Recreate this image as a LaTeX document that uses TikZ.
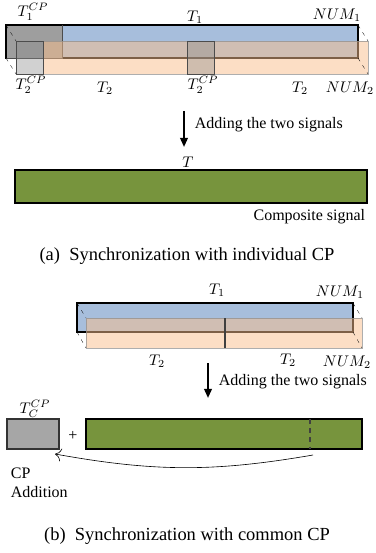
\documentclass[tikz,border=0pt]{standalone}
\usepackage{amsmath}
\usepackage{fontspec}
\setmainfont{Liberation Serif}
\usetikzlibrary{fit,arrows.meta}

\definecolor{sigblue}{RGB}{167,190,220}
\definecolor{sigorange}{RGB}{250,190,140}
\definecolor{siggreen}{RGB}{119,148,61}
\definecolor{cpgray}{RGB}{158,158,158}

\begin{document}
\begin{tikzpicture}[x=0.65pt,y=-0.65pt,
    sigone/.style={fill=sigblue,draw=black,line width=0.7pt},
    sigtwo/.style={fill=sigorange,fill opacity=0.5,draw=black!45,draw opacity=0.7,line width=0.6pt},
    cpbox/.style={fill=black!45,fill opacity=0.4,draw=black!70,line width=0.6pt},
    corner/.style={very thin,dash pattern=on 2.5pt off 3pt},
    composite/.style={fill=siggreen,draw=black,line width=0.7pt,inner sep=0pt},
    addarrow/.style={-{Triangle[length=6pt,width=5pt]},line width=1.3pt},
    lab/.style={inner sep=0pt},
    txt/.style={font=\fontsize{10.4}{12}\selectfont,inner sep=1pt},
    caption/.style={font=\fontsize{12}{14}\selectfont}]
    \useasboundingbox (0,0) rectangle (375,553);

    % Individual CP: first signal
    \filldraw[sigone] (6,25) rectangle (358,58);
    \filldraw[fill=cpgray,draw=black!70,line width=0.6pt] (6,25) rectangle (62,58);
    \draw[black,line width=0.7pt] (6,58) -- (6,25) -- (62,25);

    % Individual CP: second signal
    \fill[sigtwo,draw=none] (43,41) rectangle (368,74);
    \draw[sigtwo,fill=none] (16,41) rectangle (368,74);
    \filldraw[cpbox] (16,41) rectangle (43,74);
    \filldraw[cpbox] (187,41) rectangle (214,74);

    % depth edges
    \draw[corner] (6,25) -- (16,41);
    \draw[corner] (6,58) -- (16,74);
    \draw[corner] (358,25) -- (368,41);
    \draw[corner] (358,58) -- (368,74);

    \node[lab] (tonecp) at (33,12) {$T_1^{CP}$};
    \node[lab] (tone) at (195,17) {$T_1$};
    \node[lab] (numone) at (337,15) {$NUM_1$};
    \node[lab] (ttwocpa) at (31,85) {$T_2^{CP}$};
    \node[lab] (ttwoa) at (105,88) {$T_2$};
    \node[lab] (ttwocpb) at (203,85) {$T_2^{CP}$};
    \node[lab] (ttwob) at (300,88) {$T_2$};
    \node[lab] (numtwo) at (350,88) {$NUM_2$};

    % Adding
    \coordinate (addtopa) at (184,111);
    \coordinate (addbota) at (184,147);
    \draw[addarrow] (addtopa) -- (addbota);
    \node[txt,anchor=west] (adda) at (193,125) {Adding the two signals};

    \node[lab] (ta) at (188,162) {$T$};
    \node[composite,fit={(15,170) (367,203)}] (suma) {};
    \node[txt,anchor=east] (compa) at (367,217) {Composite signal};

    \node[caption] (capa) at (187,256) {(a)~~Synchronization with individual CP};

    % Common CP: both signals
    \filldraw[sigone] (77,303) rectangle (353,332);
    \filldraw[sigtwo] (86,318) rectangle (362,348);
    \draw[black!75,line width=0.7pt] (225,318) -- (225,348);

    \draw[corner] (77,303) -- (86,318);
    \draw[corner] (77,332) -- (86,348);
    \draw[corner] (353,303) -- (362,318);
    \draw[corner] (353,332) -- (362,348);

    \node[lab] (toneb) at (217,290) {$T_1$};
    \node[lab] (numoneb) at (340,292) {$NUM_1$};
    \node[lab] (ttwoc) at (157,361) {$T_2$};
    \node[lab] (ttwod) at (288,360) {$T_2$};
    \node[lab] (numtwob) at (347,362) {$NUM_2$};

    % Adding
    \coordinate (addtopb) at (208,363);
    \coordinate (addbotb) at (208,398);
    \draw[addarrow] (addtopb) -- (addbotb);
    \node[txt,anchor=west] (addb) at (217,382) {Adding the two signals};

    % common CP and composite signal
    \node[lab] (tccp) at (35,409) {$T_C^{CP}$};
    \node[fill=black!35,draw=black!80,line width=0.7pt,inner sep=0pt,fit={(7,419) (59,449)}] (cpc) {};
    \node[txt] (plus) at (73,436) {+};
    \node[composite,fit={(86,419) (362,449)}] (sumb) {};
    \draw[black!75,dashed,line width=0.7pt] (310,419) -- (310,449);

    \coordinate (cpstart) at (313,455);
    \coordinate (cpend) at (55,454);
    \draw[-{To[length=4pt]},thin] (cpstart) to[bend left=10] (cpend);
    \node[txt,anchor=west,align=left] (cpadd) at (9,483) {CP\\Addition};

    \node[caption] (capb) at (187,536) {(b)~~Synchronization with common CP};
\end{tikzpicture}
\end{document}
